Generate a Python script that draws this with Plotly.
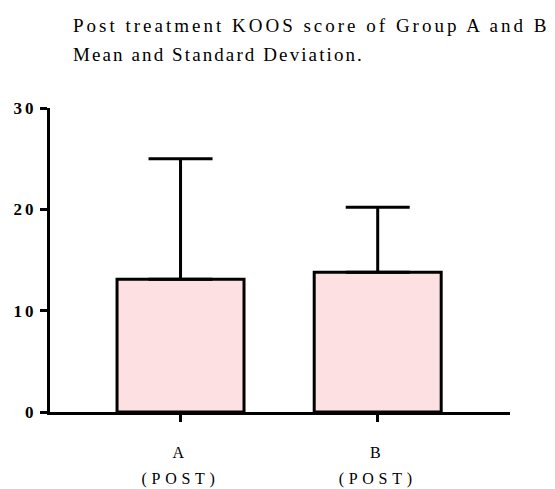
import plotly.graph_objects as go

categories = ["A<br>(POST)", "B<br>(POST)"]
means = [13.1, 13.8]
sds = [11.9, 6.4]
y_ticks = [0, 10, 20, 30]
title_lines = ["Post treatment KOOS score of Group A and B", "Mean and Standard Deviation."]

# the page body adds an 8px offset, so the figure is drawn 8px smaller
W, H = 547, 481
ml, mr, mt, mb = 42, 45, 100, 77
plot_h = H - mt - mb
plot_w = W - ml - mr

fig = go.Figure(
    go.Bar(
        x=list(range(len(categories))),
        y=means,
        width=0.644,
        marker=dict(color="#FDE0E1", line=dict(color="black", width=3)),
        error_y=dict(
            type="data", symmetric=False, array=sds, arrayminus=[0] * len(sds),
            color="black", thickness=3, width=32,
        ),
        hoverinfo="skip",
    )
)

def py(px):
    return (H - mb - px) / plot_h

annotations = []
for txt, ypx in zip(title_lines, [30, 59]):
    annotations.append(dict(
        text=txt, xref="paper", yref="paper",
        x=(63 - ml) / plot_w, y=py(ypx),
        xanchor="left", yanchor="bottom", align="left", showarrow=False,
        font=dict(family="Liberation Serif", size=19, color="black"),
    ))

fig.update_layout(
    width=W, height=H,
    margin=dict(l=ml, r=mr, t=mt, b=mb, autoexpand=False),
    plot_bgcolor="white", paper_bgcolor="white",
    showlegend=False,
    annotations=annotations,
    xaxis=dict(
        range=[-0.662, 1.671], tickvals=list(range(len(categories))), ticktext=categories,
        showline=True, linecolor="black", linewidth=3,
        ticks="outside", ticklen=7, tickwidth=3, tickcolor="black",
        ticklabelstandoff=17, automargin=False,
        showgrid=False, zeroline=False,
        tickfont=dict(family="Liberation Serif", size=16, color="black"),
    ),
    yaxis=dict(
        range=[0, 30], tickvals=y_ticks, automargin=False,
        showline=True, linecolor="black", linewidth=3,
        ticks="outside", ticklen=7, tickwidth=3, tickcolor="black",
        showgrid=False, zeroline=False,
        tickfont=dict(family="Liberation Serif", size=17, color="black", weight="bold"),
    ),
)

post = """
var gd = document.getElementById('{plot_id}');
var sp = ['3.0px', '2.1px'];
gd.querySelectorAll('g.annotation').forEach(function(g, i) {
  var t = g.querySelector('text');
  if (t) t.style.letterSpacing = sp[i] || '3px';
});
gd.querySelectorAll('g.xtick text').forEach(function(t) {
  t.style.letterSpacing = '4.7px';
  var ls = t.querySelectorAll('tspan.line');
  if (ls.length > 1) ls[1].setAttribute('dy', '1.6em');
});
gd.querySelectorAll('g.ytick text').forEach(function(t) {
  t.style.letterSpacing = '3px';
});
"""

fig.write_html("out.html", post_script=post)
